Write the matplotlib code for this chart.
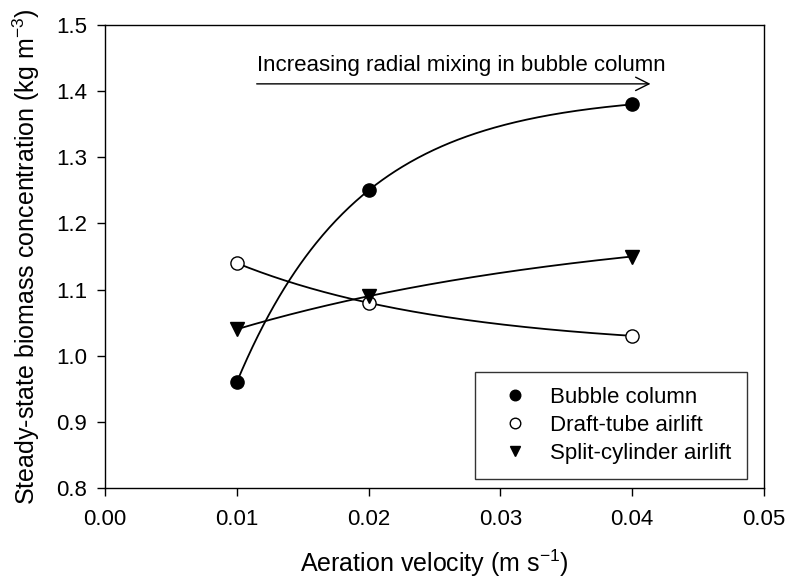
import numpy as np
import matplotlib
matplotlib.use("Agg")
import matplotlib.pyplot as plt

plt.rcParams['font.family'] = ['Liberation Sans', 'DejaVu Sans']
plt.rcParams['mathtext.fontset'] = 'custom'
plt.rcParams['mathtext.rm'] = 'Liberation Sans'
plt.rcParams['mathtext.it'] = 'Liberation Sans:italic'
plt.rcParams['mathtext.bf'] = 'Liberation Sans:bold'

# aeration velocity (m/s)
velocity = [0.01, 0.02, 0.04]
bubble_column = [0.96, 1.25, 1.38]
draft_tube = [1.14, 1.08, 1.03]
split_cylinder = [1.04, 1.09, 1.15]

x_ticks = [0.00, 0.01, 0.02, 0.03, 0.04, 0.05]
y_ticks = [0.8, 0.9, 1.0, 1.1, 1.2, 1.3, 1.4, 1.5]


def exp_rise_through(xs, ys):
    """y = c + a*(1 - exp(-b x)) passing through three points."""
    x1, x2, x3 = xs
    y1, y2, y3 = ys
    target = (y3 - y2) / (y2 - y1)

    def ratio(b):
        return (np.exp(-b * x2) - np.exp(-b * x3)) / (np.exp(-b * x1) - np.exp(-b * x2))

    lo, hi = 1e-6, 2000.0
    for _ in range(200):
        mid = 0.5 * (lo + hi)
        if ratio(mid) > target:
            lo = mid
        else:
            hi = mid
    b = 0.5 * (lo + hi)
    a = (y2 - y1) / (np.exp(-b * x1) - np.exp(-b * x2))
    c = y1 - a * (1 - np.exp(-b * x1))
    xx = np.linspace(x1, x3, 300)
    return xx, c + a * (1 - np.exp(-b * xx))


fig = plt.figure(figsize=(7.88, 5.81), dpi=100)
ax = fig.add_axes([105 / 788, 1 - 488 / 581, (764 - 105) / 788, (488 - 25) / 581])

series = [
    (bubble_column, 'o', 'black', 'Bubble column'),
    (draft_tube, 'o', 'white', 'Draft-tube airlift'),
    (split_cylinder, 'v', 'black', 'Split-cylinder airlift'),
]
for ys, marker, face, label in series:
    xx, yy = exp_rise_through(velocity, ys)
    ax.plot(xx, yy, color='black', lw=1.3, zorder=2)
    ax.plot(velocity, ys, linestyle='none', marker=marker, ms=9.5,
            mfc=face, mec='black', mew=1.0, label=label, zorder=3)

ax.set_xlim(0, 0.05)
ax.set_ylim(0.8, 1.5)
ax.set_xticks(x_ticks)
ax.set_xticklabels(['%.2f' % v for v in x_ticks])
ax.set_yticks(y_ticks)
ax.set_yticklabels(['%.1f' % v for v in y_ticks])
ax.tick_params(direction='out', length=6, width=1, labelsize=16,
               top=False, right=False)
ax.tick_params(axis='x', pad=9)
ax.tick_params(axis='y', pad=7)
for sp in ax.spines.values():
    sp.set_linewidth(1.0)

ax.set_xlabel('Aeration velocity (m s$^{-1}$)', fontsize=18, labelpad=13)
ax.set_ylabel('Steady-state biomass concentration (kg m$^{-3}$)', fontsize=18,
              labelpad=10)

# arrow annotation
ax.annotate('', xy=(0.0416, 1.411), xytext=(0.0113, 1.411),
            arrowprops=dict(arrowstyle='->', lw=1.0, color='black',
                            mutation_scale=24))
ax.text(0.01155, 1.423, 'Increasing radial mixing in bubble column',
        fontsize=16, ha='left', va='bottom')

leg = ax.legend(loc='lower right', bbox_to_anchor=(0.974, 0.019), fontsize=16,
                frameon=True, fancybox=False, edgecolor='black',
                markerscale=0.8, handlelength=2.2, handletextpad=0.5,
                borderpad=0.69, labelspacing=0.31, borderaxespad=0.0)
leg.get_frame().set_linewidth(1.0)

fig.savefig('out.png', dpi=100)
